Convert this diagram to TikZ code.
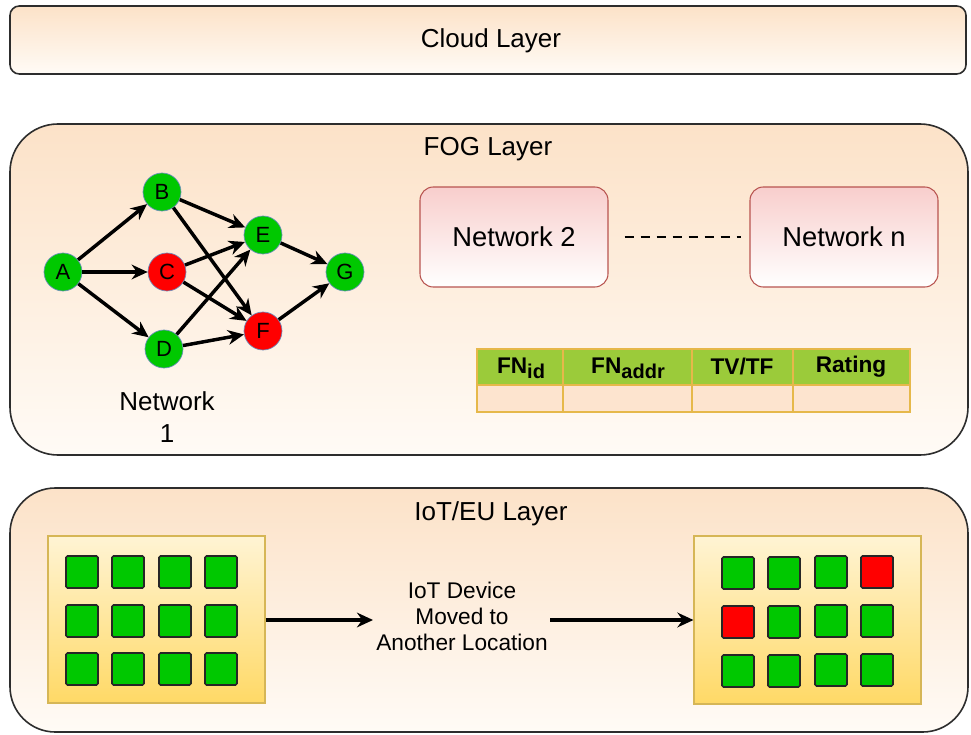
\documentclass[tikz,border=0pt]{standalone}
\usepackage{fontspec}
\setmainfont{Liberation Sans}
\usetikzlibrary{arrows.meta}
\definecolor{peach}{RGB}{252,226,200}
\definecolor{peachlow}{RGB}{255,251,246}
\definecolor{layerline}{RGB}{45,45,45}
\definecolor{netpink}{RGB}{248,206,204}
\definecolor{netline}{RGB}{184,84,80}
\definecolor{nodegreen}{RGB}{0,200,0}
\definecolor{nodered}{RGB}{255,0,0}
\definecolor{nodeedge}{RGB}{108,142,191}
\definecolor{devtop}{RGB}{255,244,212}
\definecolor{devbot}{RGB}{255,217,102}
\definecolor{devline}{RGB}{214,182,86}
\definecolor{tabhead}{RGB}{155,203,58}
\definecolor{tabbody}{RGB}{253,228,207}
\definecolor{tabline}{RGB}{230,184,74}
\tikzset{
  layerbox/.style={draw=layerline, line width=1.2pt, top color=peach, bottom color=peachlow},
  layertext/.style={font=\fontsize{19.5}{23}\selectfont, inner sep=0pt},
  netbox/.style={draw=netline, line width=0.8pt, top color=netpink, bottom color=white, rounded corners=10pt,
     minimum width=141pt, minimum height=75pt, font=\fontsize{20.5}{24}\selectfont},
  gnode/.style={circle, draw=nodeedge, line width=0.5pt, fill=nodegreen, minimum size=28.5pt, inner sep=0pt,
     font=\fontsize{16.5}{18}\selectfont},
  rnode/.style={gnode, fill=nodered},
  arr/.style={draw=black, line width=2.6pt, -{Stealth[length=12pt,width=11pt]}},
  devbox/.style={draw=devline, line width=0.8pt, top color=devtop, bottom color=devbot},
  gsq/.style={draw=black!85, line width=1.2pt, fill=nodegreen, rounded corners=1.2pt, minimum size=24pt, inner sep=0pt},
  rsq/.style={gsq, fill=nodered},
  headcell/.style={draw=tabline, line width=1pt, fill=tabhead},
  bodycell/.style={draw=tabline, line width=1pt, fill=tabbody},
  headtext/.style={font=\fontsize{17}{19}\selectfont\bfseries, inner sep=0pt},
}
\newcommand{\subtxt}[1]{\raisebox{-0.45ex}{\fontsize{15}{17}\selectfont #1}}
\begin{document}
\begin{tikzpicture}[x=0.75pt,y=-0.75pt]
\useasboundingbox (0,0) rectangle (971,735);
% Cloud layer
\draw[layerbox, rounded corners=7pt] (10,6) rectangle (966,74);
\node[layertext] (cloud) at (491,41) {Cloud Layer};
% FOG layer
\draw[layerbox, rounded corners=36pt] (10,124) rectangle (968,455);
\node[layertext] (fog) at (488,149) {FOG Layer};
% Network 1 graph
\node[gnode] (A) at (63,272) {A};
\node[gnode] (B) at (162,192) {B};
\node[rnode] (C) at (167,272) {C};
\node[gnode] (D) at (164,349) {D};
\node[gnode] (E) at (263,235) {E};
\node[rnode] (F) at (263,331) {F};
\node[gnode] (G) at (345,272) {G};
\draw[arr] (A) -- (B);
\draw[arr] (A) -- (C);
\draw[arr] (A) -- (D);
\draw[arr] (B) -- (E);
\draw[arr] (B) -- (F);
\draw[arr] (C) -- (E);
\draw[arr] (C) -- (F);
\draw[arr] (D) -- (E);
\draw[arr] (D) -- (F);
\draw[arr] (E) -- (G);
\draw[arr] (F) -- (G);
\node[font=\fontsize{19.5}{24.5}\selectfont, align=center, inner sep=0pt] (net1) at (167,417) {Network\\1};
% Network 2 .. n
\node[netbox] (net2) at (514,237) {Network 2};
\node[netbox] (netn) at (844,237) {Network n};
\draw[line width=1.4pt, dash pattern=on 7pt off 5pt, shorten <=12pt, shorten >=6pt] (net2.east) -- (netn.west);
% Table
\draw[headcell] (477,349) rectangle (563,385);
\draw[headcell] (563,349) rectangle (692,385);
\draw[headcell] (692,349) rectangle (793,385);
\draw[headcell] (793,349) rectangle (910,385);
\draw[bodycell] (477,385) rectangle (563,412);
\draw[bodycell] (563,385) rectangle (692,412);
\draw[bodycell] (692,385) rectangle (793,412);
\draw[bodycell] (793,385) rectangle (910,412);
\node[headtext] (h1) at (521,368) {FN\subtxt{id}};
\node[headtext] (h2) at (628,368) {FN\subtxt{addr}};
\node[headtext] (h3) at (742,367) {TV/TF};
\node[headtext] (h4) at (851,367) {Rating};
% IoT/EU layer
\draw[layerbox, rounded corners=34pt] (10,488) rectangle (968,732);
\node[layertext] (iot) at (491,514) {IoT/EU Layer};
% left device box
\node[devbox, minimum width=162.75pt, minimum height=125.25pt, inner sep=0pt] (dev1) at (156.5,619.5) {};
\foreach \c/\x in {1/82,2/128,3/175,4/221}{
  \foreach \r/\y in {1/572,2/621,3/669}{
    \node[gsq] (l\r\c) at (\x,\y) {};
  }
}
% right device box
\node[devbox, minimum width=170.25pt, minimum height=126pt, inner sep=0pt] (dev2) at (807.5,620) {};
\node[gsq] (r11) at (738,573) {};
\node[gsq] (r12) at (784,573) {};
\node[gsq] (r13) at (831,572) {};
\node[rsq] (r14) at (877,572) {};
\node[rsq] (r21) at (738,622) {};
\node[gsq] (r22) at (784,622) {};
\node[gsq] (r23) at (831,621) {};
\node[gsq] (r24) at (877,621) {};
\node[gsq] (r31) at (738,671) {};
\node[gsq] (r32) at (784,671) {};
\node[gsq] (r33) at (831,670) {};
\node[gsq] (r34) at (877,670) {};
% move text and arrows
\node[font=\fontsize{17}{19.5}\selectfont, align=center, inner sep=0pt] (move) at (462,616) {IoT Device\\Moved to\\Another Location};
\coordinate (m1) at (373,620);
\coordinate (m2) at (550,620);
\draw[arr] (dev1.east |- m1) -- (m1);
\draw[arr] (m2) -- (dev2.west |- m2);
\end{tikzpicture}
\end{document}
